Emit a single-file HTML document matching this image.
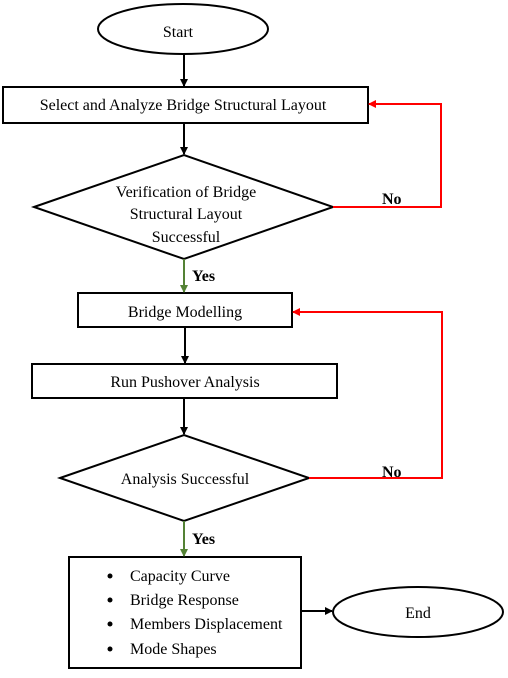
<!DOCTYPE html>
<html><head><meta charset="utf-8"><style>
html,body{margin:0;padding:0;background:#fff;}
svg text{font-family:"Liberation Serif",serif;font-size:16px;fill:#000;}
</style></head><body>
<svg width="508" height="673" viewBox="0 0 508 673" xmlns="http://www.w3.org/2000/svg">
<defs>
<marker id="ab" markerWidth="8" markerHeight="8" refX="7" refY="4" orient="auto" markerUnits="userSpaceOnUse"><path d="M0,0 L8,4 L0,8 z" fill="#000"/></marker>
<marker id="ar" markerWidth="8" markerHeight="8" refX="7" refY="4" orient="auto" markerUnits="userSpaceOnUse"><path d="M0,0 L8,4 L0,8 z" fill="#f00"/></marker>
<marker id="ag" markerWidth="8" markerHeight="8" refX="7" refY="4" orient="auto" markerUnits="userSpaceOnUse"><path d="M0,0 L8,4 L0,8 z" fill="#548235"/></marker>
</defs>
<g fill="none" stroke="#000" stroke-width="2">
<ellipse cx="183" cy="29" rx="85" ry="25" fill="#fff"/>
<rect x="3" y="87" width="365" height="36"/>
<polygon points="34,207 184,155 333,207 184,259"/>
<rect x="78" y="293" width="214" height="34"/>
<rect x="32" y="364" width="305" height="34"/>
<polygon points="60,478 184,435 309,478 184,521"/>
<rect x="69" y="557" width="232" height="111"/>
<ellipse cx="418" cy="612" rx="85" ry="25"/>
<line x1="184" y1="54" x2="184" y2="86" marker-end="url(#ab)"/>
<line x1="184" y1="123" x2="184" y2="154" marker-end="url(#ab)"/>
<line x1="185" y1="327" x2="185" y2="363" marker-end="url(#ab)"/>
<line x1="184" y1="398" x2="184" y2="434" marker-end="url(#ab)"/>
<line x1="301" y1="611" x2="332" y2="611" marker-end="url(#ab)"/>
</g>
<g fill="none" stroke="#f00" stroke-width="2">
<polyline points="333,207 441,207 441,104 369,104" marker-end="url(#ar)"/>
<polyline points="309,478 442,478 442,312 293,312" marker-end="url(#ar)"/>
</g>
<g fill="none" stroke="#548235" stroke-width="2">
<line x1="184" y1="259" x2="184" y2="292" marker-end="url(#ag)"/>
<line x1="184" y1="521" x2="184" y2="556" marker-end="url(#ag)"/>
</g>
<text x="178" y="37" text-anchor="middle">Start</text>
<text x="183" y="110" text-anchor="middle">Select and Analyze Bridge Structural Layout</text>
<text x="186" y="197" text-anchor="middle">Verification of Bridge</text>
<text x="186" y="219" text-anchor="middle">Structural Layout</text>
<text x="186" y="242" text-anchor="middle">Successful</text>
<text x="185" y="317" text-anchor="middle">Bridge Modelling</text>
<text x="185" y="387" text-anchor="middle">Run Pushover Analysis</text>
<text x="185" y="484" text-anchor="middle">Analysis Successful</text>
<text x="418" y="618" text-anchor="middle">End</text>
<text x="382" y="204" style="font-weight:bold">No</text>
<text x="382" y="477" style="font-weight:bold">No</text>
<text x="192" y="281" style="font-weight:bold">Yes</text>
<text x="192" y="544" style="font-weight:bold">Yes</text>
<g fill="#000">
<circle cx="110" cy="576" r="2.5"/><circle cx="110" cy="600" r="2.5"/>
<circle cx="110" cy="624" r="2.5"/><circle cx="110" cy="649" r="2.5"/>
</g>
<text x="130" y="581">Capacity Curve</text>
<text x="130" y="605">Bridge Response</text>
<text x="130" y="629">Members Displacement</text>
<text x="130" y="654">Mode Shapes</text>
</svg>
</body></html>
